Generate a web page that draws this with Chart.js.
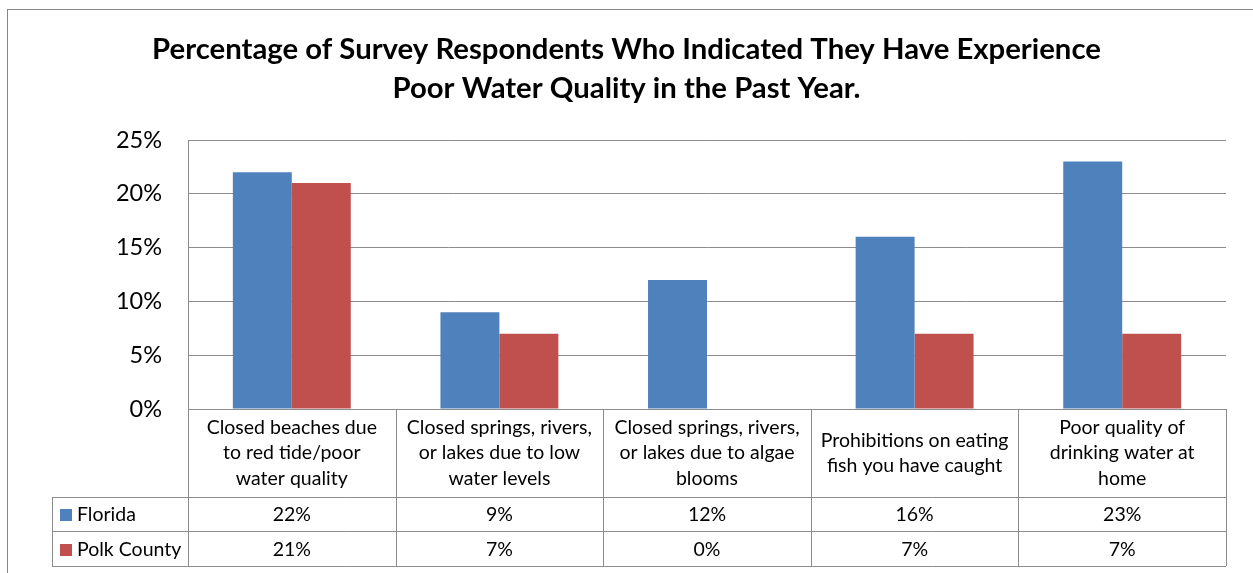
<!DOCTYPE html>
<html>
<head>
<meta charset="utf-8">
<script src="https://cdn.jsdelivr.net/npm/chart.js@4.4.0/dist/chart.umd.min.js"></script>
<style>
  html, body { margin: 0; padding: 0; background: #fff; }
  #wrap { width: 1253px; height: 573px; }
</style>
</head>
<body>
<div id="wrap"><canvas id="waterChart" width="1253" height="573"></canvas></div>
<script>
// Survey categories (wrapped the way they appear in the table header)
const categories = [
    ['Closed beaches due', 'to red tide/poor', 'water quality'],
    ['Closed springs, rivers,', 'or lakes due to low', 'water levels'],
    ['Closed springs, rivers,', 'or lakes due to algae', 'blooms'],
    ['Prohibitions on eating', 'fish you have caught'],
    ['Poor quality of', 'drinking water at', 'home']
];
const florida = [22, 9, 12, 16, 23];
const polkCounty = [21, 7, 0, 7, 7];
const seriesNames = ['Florida', 'Polk County'];
const seriesColors = ['#4F81BD', '#C0504D'];
const yTicks = [0, 5, 10, 15, 20, 25];

const FONT = 'Lato, "Noto Sans", sans-serif';
const LINE = '#8c8c8c';

// draws the outer frame and the data table under the plot
const dataTable = {
    id: 'dataTable',
    afterDraw(chart) {
        const ctx = chart.ctx;
        const xs = chart.scales.x;
        const area = chart.chartArea;
        const step = (area.right - area.left) / categories.length;
        const top = area.bottom;
        const headBottom = top + 88;
        const rows = [headBottom, headBottom + 34, headBottom + 69];
        const legendLeft = 52;
        const px = v => Math.round(v) + 0.5;

        ctx.save();
        ctx.strokeStyle = '#868686';
        ctx.lineWidth = 1;
        ctx.strokeRect(7.5, 9.5, 1400, 800);

        ctx.strokeStyle = LINE;
        ctx.beginPath();
        // horizontal rules
        ctx.moveTo(area.left, px(top)); ctx.lineTo(area.right, px(top));
        rows.forEach(y => { ctx.moveTo(legendLeft, px(y)); ctx.lineTo(area.right, px(y)); });
        // column rules
        for (let i = 0; i <= categories.length; i++) {
            const x = px(area.left + i * step);
            ctx.moveTo(x, top); ctx.lineTo(x, rows[2]);
        }
        ctx.moveTo(px(legendLeft), rows[0]); ctx.lineTo(px(legendLeft), rows[2]);
        ctx.stroke();

        ctx.fillStyle = '#000';
        ctx.textAlign = 'center';
        ctx.textBaseline = 'middle';
        ctx.font = '19.5px ' + FONT;
        const lh = 25.5;
        categories.forEach((lines, i) => {
            const cx = xs.getPixelForValue(i);
            const y0 = (top + headBottom) / 2 - (lines.length - 1) * lh / 2;
            lines.forEach((t, j) => ctx.fillText(t, cx, y0 + j * lh));
        });

        [florida, polkCounty].forEach((vals, r) => {
            const cy = (rows[r] + rows[r + 1]) / 2 + 1;
            ctx.textAlign = 'center';
            vals.forEach((v, i) => ctx.fillText(v + '%', xs.getPixelForValue(i), cy));
            ctx.fillStyle = seriesColors[r];
            ctx.fillRect(legendLeft + 8, Math.round(cy - 6), 12, 12);
            ctx.fillStyle = '#000';
            ctx.textAlign = 'left';
            ctx.fillText(seriesNames[r], legendLeft + 25, cy);
        });
        ctx.restore();
    }
};

new Chart(document.getElementById('waterChart'), {
    type: 'bar',
    data: {
        labels: categories,
        datasets: [
            { label: seriesNames[0], data: florida, backgroundColor: seriesColors[0] },
            { label: seriesNames[1], data: polkCounty, backgroundColor: seriesColors[1] }
        ]
    },
    options: {
        responsive: false,
        animation: false,
        categoryPercentage: 0.568,
        barPercentage: 1,
        layout: { padding: 0 },
        plugins: {
            legend: { display: false },
            tooltip: { enabled: false },
            title: {
                display: true,
                text: ['Percentage of Survey Respondents Who Indicated They Have Experience',
                       'Poor Water Quality in the Past Year.'],
                color: '#000',
                font: { family: FONT, size: 29.3, weight: 'bold', lineHeight: '39px' },
                padding: { top: 30, bottom: 32 }
            }
        },
        scales: {
            x: {
                ticks: { display: false },
                grid: { display: false },
                border: { display: false },
                afterFit: s => { s.height = 164; }
            },
            y: {
                min: 0,
                max: 25,
                afterBuildTicks: s => { s.ticks = yTicks.map(v => ({ value: v })); },
                ticks: {
                    color: '#000',
                    padding: 26,
                    font: { family: FONT, size: 23.5 },
                    callback: v => v + '%'
                },
                grid: { color: LINE, drawTicks: false },
                border: { color: LINE },
                afterFit: s => { s.width = 188; }
            },
            // empty margin on the right so the title stays centred on the canvas
            yRight: {
                position: 'right',
                ticks: { display: false },
                grid: { display: false },
                border: { display: false },
                afterFit: s => { s.width = 27; }
            }
        }
    },
    plugins: [dataTable]
});
</script>
</body>
</html>
